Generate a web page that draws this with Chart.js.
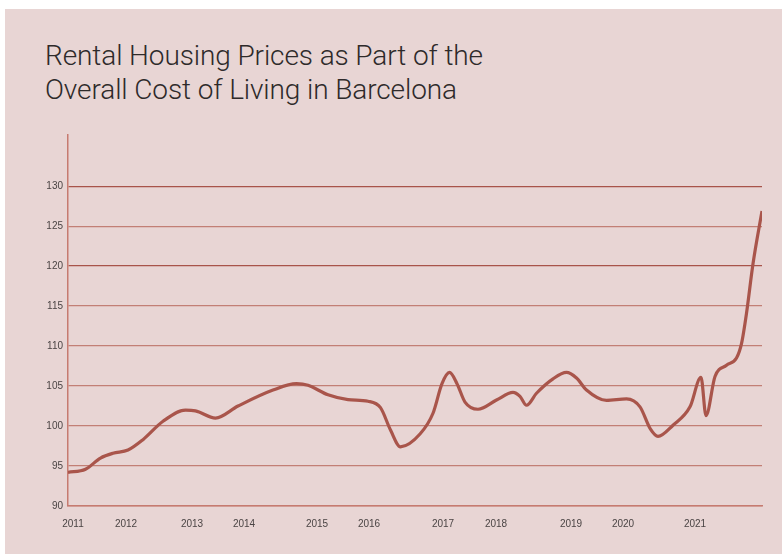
<!DOCTYPE html>
<html>
<head>
<meta charset="utf-8">
<script src="https://cdn.jsdelivr.net/npm/chart.js@4"></script>
<style>
  body { margin: 0; background: #fff; width: 782px; height: 554px; overflow: hidden; position: relative; }
  #panel { position: absolute; left: 5px; top: 9px; width: 777px; height: 545px; background: #e8d5d4; }
  #title { position: absolute; left: 45px; top: 39px; font-family: "Roboto", "Liberation Sans", sans-serif; font-weight: 300;
           font-size: 28px; line-height: 34px; color: #2e2a2a; letter-spacing: -0.1px; white-space: nowrap; }
  #chart { position: absolute; left: 0; top: 0; }
</style>
</head>
<body>
<div id="panel"></div>
<div id="title">Rental Housing Prices as Part of the<br>Overall Cost of Living in Barcelona</div>
<canvas id="chart" width="782" height="554"></canvas>
<script>
// months since Jan 2011 -> index value
const months = [0, 3.5, 6.5, 9, 12, 15, 19, 23.5, 25.5, 29.5, 34, 41, 45.7, 48, 52, 56, 60, 62.5, 64.5, 66.5,
  70.4, 73, 74.8, 76.3, 77.8, 79.4, 82, 85.7, 89, 90.4, 91.7, 93.7, 97, 99.7, 101.7, 103.7, 107.7, 111.7,
  114.4, 116.5, 118, 121, 124.4, 126.6, 127.6, 129.4, 131.7, 133.7, 134.7, 135.7, 137, 138.8];
const values = [94.2, 94.6, 96.0, 96.6, 97.0, 98.3, 100.6, 102.0, 101.9, 101.0, 102.5, 104.5, 105.3, 105.1, 103.9, 103.3, 103.1, 102.3, 99.5, 97.4,
  99.0, 101.6, 105.3, 106.7, 105.3, 103.0, 102.1, 103.25, 104.2, 103.7, 102.6, 104.1, 105.9, 106.7, 106.0, 104.5, 103.2, 103.4,
  102.4, 99.6, 98.7, 100.1, 102.4, 106.1, 101.3, 106.2, 107.6, 108.5, 110.3, 114.1, 120.3, 126.9];

const yearLabels = ['2011', '2012', '2013', '2014', '2015', '2016', '2017', '2018', '2019', '2020', '2021'];
const yearLabelPos = [1, 11.6, 24.8, 35.2, 49.8, 60.2, 75, 85.6, 100.6, 111, 125.4];
const yTicks = [90, 95, 100, 105, 110, 115, 120, 125, 130];

const points = months.map((m, i) => ({ x: m, y: values[i] }));

new Chart(document.getElementById('chart'), {
  type: 'line',
  data: {
    datasets: [{
      data: points,
      borderColor: '#a9554b',
      borderWidth: 3.2,
      pointRadius: 0,
      cubicInterpolationMode: 'monotone',
      fill: false
    }]
  },
  options: {
    responsive: false,
    animation: false,
    layout: { padding: { top: 135, right: 20, left: 0, bottom: 0 } },
    plugins: { legend: { display: false }, tooltip: { enabled: false }, title: { display: false } },
    scales: {
      x: {
        type: 'linear',
        min: 0,
        max: 138.8,
        afterBuildTicks: (scale) => { scale.ticks = yearLabelPos.map(v => ({ value: v })); },
        afterFit: (scale) => { scale.height = 48; },
        grid: { display: false, drawTicks: false },
        border: { display: true, color: '#c67b70', width: 1.5 },
        ticks: {
          autoSkip: false,
          maxRotation: 0,
          padding: 12,
          color: '#4a4444',
          font: { family: 'Liberation Sans', size: 10 },
          callback: (v, i) => yearLabels[i]
        }
      },
      y: {
        min: 90,
        max: 136.4,
        afterBuildTicks: (scale) => { scale.ticks = yTicks.map(v => ({ value: v })); },
        afterFit: (scale) => { scale.width = 68; },
        grid: {
          drawTicks: false,
          lineWidth: 1.3,
          color: (ctx) => (ctx.tick && (ctx.tick.value === 120 || ctx.tick.value === 130)) ? '#a8544a' : '#c27f75'
        },
        border: { display: true, color: '#c67b70', width: 1.5 },
        ticks: {
          padding: 5,
          color: '#4a4444',
          font: { family: 'Liberation Sans', size: 10 }
        }
      }
    }
  }
});
</script>
</body>
</html>
